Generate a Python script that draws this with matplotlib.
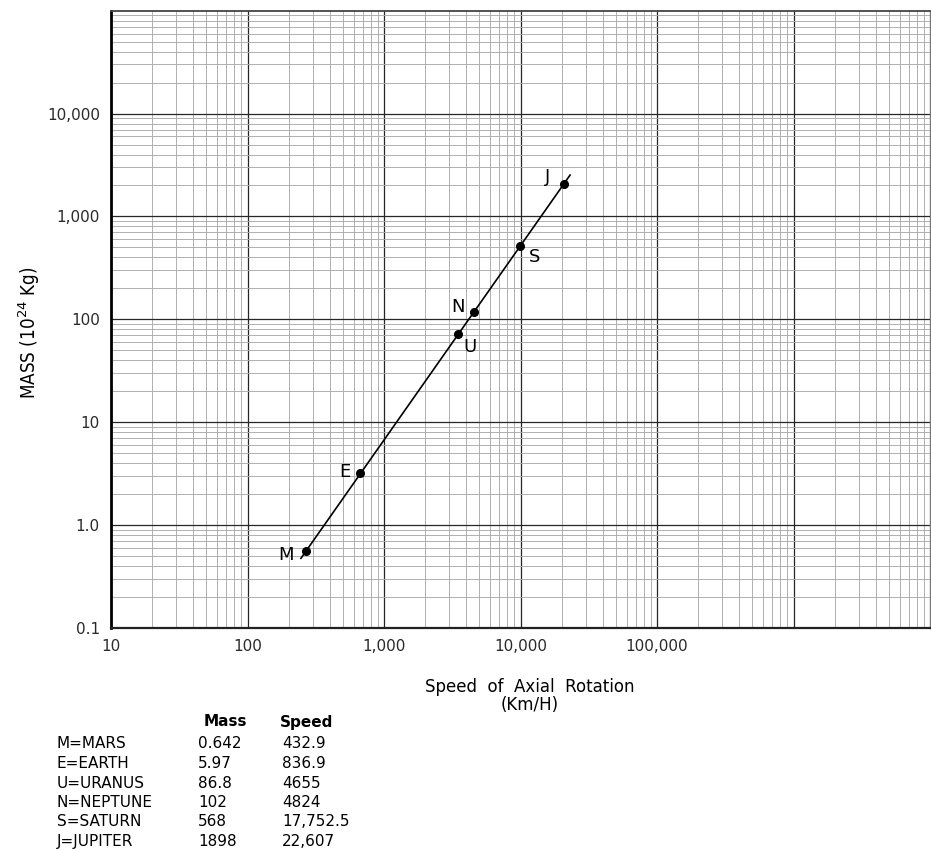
import numpy as np
import matplotlib
matplotlib.use("Agg")
import matplotlib.pyplot as plt
from matplotlib.ticker import LogLocator, NullFormatter

# ---------------- data ----------------
planet_letters = ["M", "E", "U", "N", "S", "J"]
planet_names = ["MARS", "EARTH", "URANUS", "NEPTUNE", "SATURN", "JUPITER"]
# positions of the plotted dots
plotted_speed = [270, 670, 3500, 4600, 9900, 20800]      # km/h
plotted_mass = [0.56, 3.2, 72, 118, 515, 2070]            # 10^24 kg
# values listed in the table under the chart
table_mass = ["0.642", "5.97", "86.8", "102", "568", "1898"]
table_speed = ["432.9", "836.9", "4655", "4824", "17,752.5", "22,607"]

x_ticks = [10, 100, 1000, 10000, 100000, 1000000]
x_tick_labels = ["10", "100", "1,000", "10,000", "100,000", ""]
y_ticks = [0.1, 1, 10, 100, 1000, 10000]
y_tick_labels = ["0.1", "1.0", "10", "100", "1,000", "10,000"]

# ---------------- layout / style ----------------
W, H = 931, 850
label_offsets = [(-14.5, -3.0), (-10.8, 1.0), (8.4, -9.4),
                 (-11.7, 3.4), (10.8, -7.9), (-11.5, 5.0)]   # points

plt.rcParams["font.family"] = ["DejaVu Sans"]
fig = plt.figure(figsize=(W / 100, H / 100), dpi=100)
ax = fig.add_axes([111 / W, 1 - 628 / H, (930 - 111) / W, (628 - 10.7) / H])
ax.set_xscale("log")
ax.set_yscale("log")
ax.set_xlim(10, 1e7)
ax.set_ylim(0.1, 1e5)

ax.set_xticks(x_ticks)
ax.set_xticklabels(x_tick_labels)
ax.set_yticks(y_ticks)
ax.set_yticklabels(y_tick_labels)
for axis in (ax.xaxis, ax.yaxis):
    axis.set_minor_locator(LogLocator(base=10, subs=np.arange(2, 10), numticks=30))
    axis.set_minor_formatter(NullFormatter())
ax.tick_params(which="both", length=0)
ax.tick_params(axis="x", pad=8, labelsize=11, labelcolor="#2a2a2a")
ax.tick_params(axis="y", pad=8, labelsize=11, labelcolor="#2a2a2a")

ax.grid(which="major", color="#262626", lw=0.9)
ax.grid(which="minor", color="#ababab", lw=0.65)
ax.set_axisbelow(True)
for side, lw, col in [("left", 2.0, "black"), ("bottom", 1.6, "#222222"),
                      ("top", 1.3, "#444444"), ("right", 1.0, "#777777")]:
    ax.spines[side].set_linewidth(lw)
    ax.spines[side].set_color(col)

# fitted straight line (log-log) through the dots, slightly extended
lx = np.log10(plotted_speed)
ly = np.log10(plotted_mass)
slope, icpt = np.polyfit(lx, ly, 1)
fit_x = np.array([lx.min() - 0.04, lx.max() + 0.045])
ax.plot(10 ** fit_x, 10 ** (slope * fit_x + icpt), color="black", lw=1.2, zorder=3)
ax.plot(plotted_speed, plotted_mass, "o", color="black", ms=5.5, zorder=4)

for letter, xv, yv, off in zip(planet_letters, plotted_speed, plotted_mass, label_offsets):
    ax.annotate(letter, (xv, yv), xytext=off, textcoords="offset points",
                ha="center", va="center", fontsize=13, color="black")

ax.set_ylabel("MASS (10$^{24}$ Kg)", fontsize=13.5, family="DejaVu Sans",
              fontstretch="condensed")
ax.yaxis.set_label_coords((42 - 111) / 819, (628 - 333) / 617.3)


def ftext(px, py, s, **kw):
    fig.text(px / W, 1 - py / H, s, **kw)


ftext(530, 696, "Speed  of  Axial  Rotation\n(Km/H)", ha="center", va="center",
      fontsize=12, color="black", linespacing=1.05, multialignment="center")

ftext(225, 722, "Mass", ha="center", va="center", fontsize=11, fontweight="bold")
ftext(307, 722, "Speed", ha="center", va="center", fontsize=11, fontweight="bold")
for i, (ltr, name, m, s) in enumerate(zip(planet_letters, planet_names, table_mass, table_speed)):
    y = 744 + 19.5 * i
    ftext(57, y, f"{ltr}={name}", ha="left", va="center", fontsize=11)
    ftext(198, y, m, ha="left", va="center", fontsize=11)
    ftext(282, y, s, ha="left", va="center", fontsize=11)

fig.savefig("out.png", dpi=100)
